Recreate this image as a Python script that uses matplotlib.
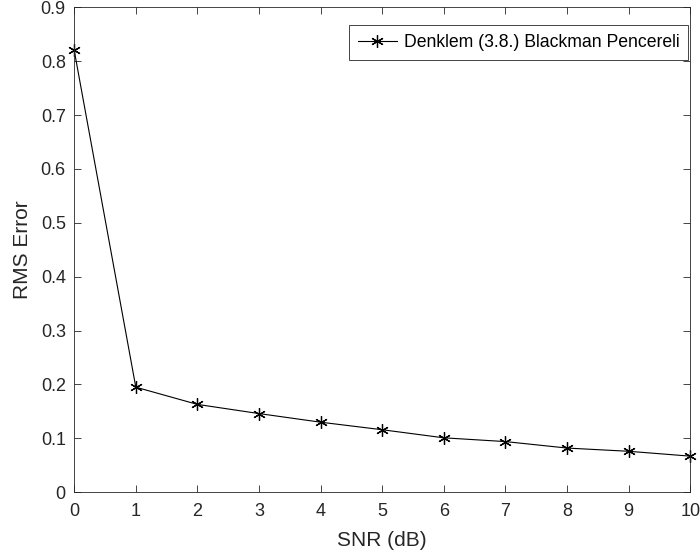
import matplotlib.pyplot as plt

snr = [0, 1, 2, 3, 4, 5, 6, 7, 8, 9, 10]
rms = [0.82, 0.195, 0.163, 0.146, 0.130, 0.116, 0.101, 0.094, 0.082, 0.076, 0.067]
label = "Denklem (3.8.) Blackman Pencereli"

plt.rcParams['font.family'] = ['Liberation Sans', 'DejaVu Sans']
plt.rcParams['font.size'] = 10
gray = '#262626'

fig = plt.figure(figsize=(7, 5.6), dpi=100)
ax = fig.add_axes([0.106, 0.121, 0.880, 0.866])

ax.plot(snr, rms, color='black', linewidth=0.8, marker=(6, 2, 0),
        markersize=9, markeredgewidth=0.9, label=label, clip_on=False)

ax.set_xlim(0, 10)
ax.set_ylim(0, 0.9)
ax.set_xticks(range(0, 11))
ax.set_yticks([i / 10 for i in range(10)])
ax.set_yticklabels(['0'] + ['%.1f' % (i / 10) for i in range(1, 10)])

ax.tick_params(direction='in', top=True, right=True, length=5, width=0.6,
               colors=gray, labelsize=13)
ax.tick_params(axis='x', pad=8)
ax.tick_params(axis='y', pad=6)
for sp in ax.spines.values():
    sp.set_color(gray)
    sp.set_linewidth(0.6)

ax.set_xlabel("SNR (dB)", fontsize=15, color=gray, labelpad=8)
ax.set_ylabel("RMS Error", fontsize=15, color=gray, labelpad=6)

leg = ax.legend(loc='upper right', bbox_to_anchor=(0.997, 0.963),
                borderaxespad=0, fontsize=12.7, fancybox=False, framealpha=1,
                edgecolor=gray, handlelength=2.2, handletextpad=0.4,
                borderpad=0.5)
leg.get_frame().set_linewidth(0.6)

fig.savefig("out.png", dpi=100)
